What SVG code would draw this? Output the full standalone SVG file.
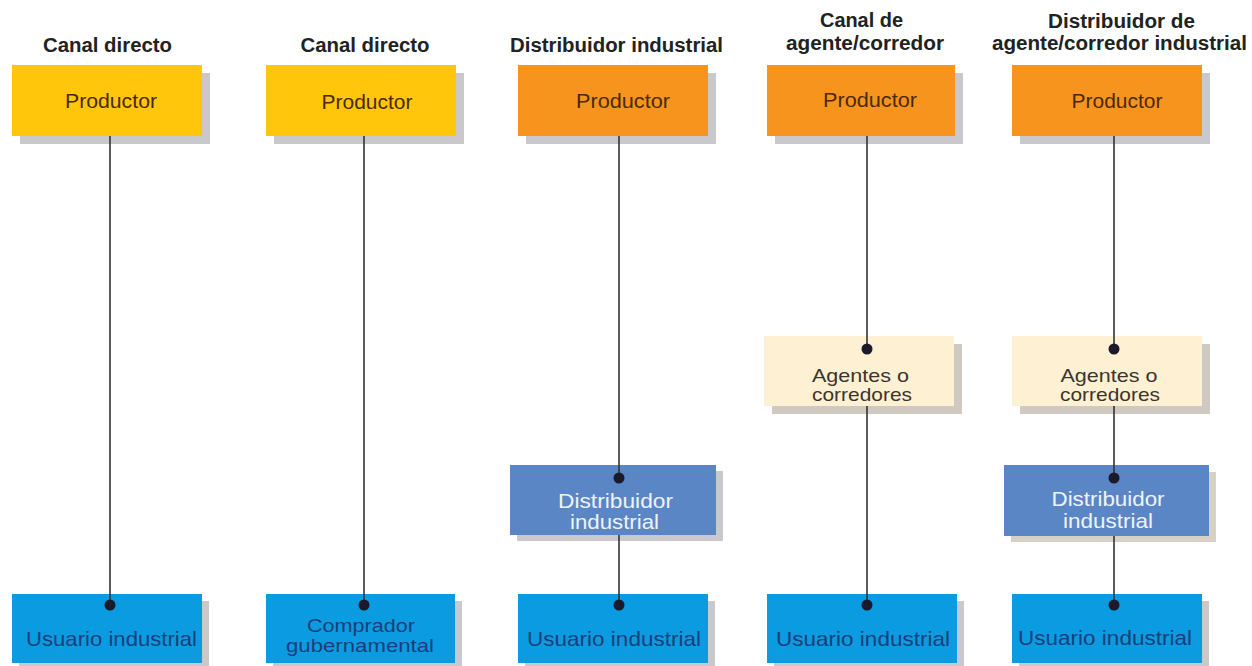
<svg xmlns="http://www.w3.org/2000/svg" width="1252" height="666" viewBox="0 0 1252 666">
<style>
.head{font-family:"Liberation Sans",Arial,sans-serif;font-weight:bold;font-size:20px;fill:#222;text-anchor:middle}
.lbl{font-family:"Liberation Sans",Arial,sans-serif;font-size:21px;text-anchor:middle}
.lbl2{font-family:"Liberation Sans",Arial,sans-serif;font-size:19px;text-anchor:middle}
.shadow{fill:#c9c9cd}
.prod-y{fill:#FFC60B}
.prod-o{fill:#F7941E}
.agent{fill:#FEF0D2}
.dist{fill:#5B86C5}
.user{fill:#0A9BE0}
.t-prod{fill:#4a2a05}
.t-user{fill:#1a3f7a}
.t-dist{fill:#eef3fa}
.t-agent{fill:#3b352d}
.conn line{stroke:#333;stroke-width:1.6}
.conn circle{fill:#1a1a2a}
</style>
<rect width="1252" height="666" fill="#fff"/>
<g id="headings">
<text class="head" x="107.5" y="52" textLength="129" lengthAdjust="spacingAndGlyphs">Canal directo</text>
<text class="head" x="365" y="52" textLength="129" lengthAdjust="spacingAndGlyphs">Canal directo</text>
<text class="head" x="616.5" y="52" textLength="213" lengthAdjust="spacingAndGlyphs">Distribuidor industrial</text>
<text class="head" x="861.5" y="27" textLength="83" lengthAdjust="spacingAndGlyphs">Canal de</text>
<text class="head" x="865" y="50" textLength="158" lengthAdjust="spacingAndGlyphs">agente/corredor</text>
<text class="head" x="1121.5" y="28" textLength="147" lengthAdjust="spacingAndGlyphs">Distribuidor de</text>
<text class="head" x="1119.5" y="50" textLength="255" lengthAdjust="spacingAndGlyphs">agente/corredor industrial</text>
</g>
<!-- Column 1 -->
<g id="c1-productor">
<rect class="shadow" x="20" y="73" width="190" height="71"/>
<rect class="prod-y" x="12" y="65" width="190" height="71"/>
<text class="lbl t-prod" x="111" y="108" textLength="92" lengthAdjust="spacingAndGlyphs">Productor</text>
</g>
<g id="c1-usuario">
<rect class="shadow" x="19" y="601" width="190" height="69"/>
<rect class="user" x="12" y="594" width="190" height="69"/>
<text class="lbl t-user" x="111.5" y="646" textLength="171" lengthAdjust="spacingAndGlyphs">Usuario industrial</text>
</g>
<!-- Column 2 -->
<g id="c2-productor">
<rect class="shadow" x="274" y="73" width="190" height="71"/>
<rect class="prod-y" x="266" y="65" width="190" height="71"/>
<text class="lbl t-prod" x="367" y="109" textLength="91" lengthAdjust="spacingAndGlyphs">Productor</text>
</g>
<g id="c2-comprador">
<rect class="shadow" x="273" y="601" width="189" height="69"/>
<rect class="user" x="266" y="594" width="189" height="69"/>
<text class="lbl2 t-user" x="361" y="632" textLength="108" lengthAdjust="spacingAndGlyphs">Comprador</text>
<text class="lbl2 t-user" x="360" y="652" textLength="148" lengthAdjust="spacingAndGlyphs">gubernamental</text>
</g>
<!-- Column 3 -->
<g id="c3-productor">
<rect class="shadow" x="526" y="73" width="190" height="71"/>
<rect class="prod-o" x="518" y="65" width="190" height="71"/>
<text class="lbl t-prod" x="623" y="108" textLength="94" lengthAdjust="spacingAndGlyphs">Productor</text>
</g>
<g id="c3-distribuidor">
<rect class="shadow" x="517" y="471" width="206" height="70"/>
<rect class="dist" x="510" y="465" width="206" height="70"/>
<text class="lbl t-dist" x="615.5" y="508" textLength="115" lengthAdjust="spacingAndGlyphs">Distribuidor</text>
<text class="lbl t-dist" x="614.5" y="529" textLength="89" lengthAdjust="spacingAndGlyphs">industrial</text>
</g>
<g id="c3-usuario">
<rect class="shadow" x="525" y="601" width="190" height="69"/>
<rect class="user" x="518" y="594" width="190" height="69"/>
<text class="lbl t-user" x="614" y="646" textLength="174" lengthAdjust="spacingAndGlyphs">Usuario industrial</text>
</g>
<!-- Column 4 -->
<g id="c4-productor">
<rect class="shadow" x="775" y="73" width="188" height="71"/>
<rect class="prod-o" x="767" y="65" width="188" height="71"/>
<text class="lbl t-prod" x="870" y="107" textLength="94" lengthAdjust="spacingAndGlyphs">Productor</text>
</g>
<g id="c4-agentes">
<rect class="shadow" x="772" y="344" width="190" height="70" style="fill:#cfc9c1"/>
<rect class="agent" x="764" y="336" width="190" height="70"/>
<text class="lbl2 t-agent" x="860.5" y="382" textLength="97" lengthAdjust="spacingAndGlyphs">Agentes o</text>
<text class="lbl2 t-agent" x="862" y="401" textLength="100" lengthAdjust="spacingAndGlyphs">corredores</text>
</g>
<g id="c4-usuario">
<rect class="shadow" x="774" y="601" width="190" height="69"/>
<rect class="user" x="767" y="594" width="190" height="69"/>
<text class="lbl t-user" x="863" y="646" textLength="174" lengthAdjust="spacingAndGlyphs">Usuario industrial</text>
</g>
<!-- Column 5 -->
<g id="c5-productor">
<rect class="shadow" x="1020" y="73" width="190" height="71"/>
<rect class="prod-o" x="1012" y="65" width="190" height="71"/>
<text class="lbl t-prod" x="1117" y="108" textLength="91" lengthAdjust="spacingAndGlyphs">Productor</text>
</g>
<g id="c5-agentes">
<rect class="shadow" x="1020" y="344" width="190" height="70" style="fill:#cfc9c1"/>
<rect class="agent" x="1012" y="336" width="190" height="70"/>
<text class="lbl2 t-agent" x="1109" y="382" textLength="97" lengthAdjust="spacingAndGlyphs">Agentes o</text>
<text class="lbl2 t-agent" x="1110" y="401" textLength="100" lengthAdjust="spacingAndGlyphs">corredores</text>
</g>
<g id="c5-distribuidor">
<rect class="shadow" x="1011" y="472" width="205" height="70" style="fill:#d6d0c6"/>
<rect class="dist" x="1004" y="465" width="205" height="71"/>
<text class="lbl t-dist" x="1108" y="506" textLength="113" lengthAdjust="spacingAndGlyphs">Distribuidor</text>
<text class="lbl t-dist" x="1108" y="528" textLength="90" lengthAdjust="spacingAndGlyphs">industrial</text>
</g>
<g id="c5-usuario">
<rect class="shadow" x="1019" y="601" width="190" height="69"/>
<rect class="user" x="1012" y="594" width="190" height="69"/>
<text class="lbl t-user" x="1105" y="645" textLength="174" lengthAdjust="spacingAndGlyphs">Usuario industrial</text>
</g>
<g id="connectors" class="conn">
<line x1="110" y1="136" x2="110" y2="605"/>
<circle cx="110" cy="605" r="5.5"/>
<line x1="364" y1="136" x2="364" y2="605"/>
<circle cx="364" cy="605" r="5.5"/>
<line x1="619" y1="136" x2="619" y2="478"/>
<circle cx="619" cy="478" r="5.5"/>
<line x1="619" y1="535" x2="619" y2="605"/>
<circle cx="619" cy="605" r="5.5"/>
<line x1="867" y1="136" x2="867" y2="349"/>
<circle cx="867" cy="349" r="5.5"/>
<line x1="867" y1="406" x2="867" y2="605"/>
<circle cx="867" cy="605" r="5.5"/>
<line x1="1114" y1="136" x2="1114" y2="349"/>
<circle cx="1114" cy="349" r="5.5"/>
<line x1="1114" y1="406" x2="1114" y2="478"/>
<circle cx="1114" cy="478" r="5.5"/>
<line x1="1114" y1="536" x2="1114" y2="605"/>
<circle cx="1114" cy="605" r="5.5"/>
</g>
</svg>
